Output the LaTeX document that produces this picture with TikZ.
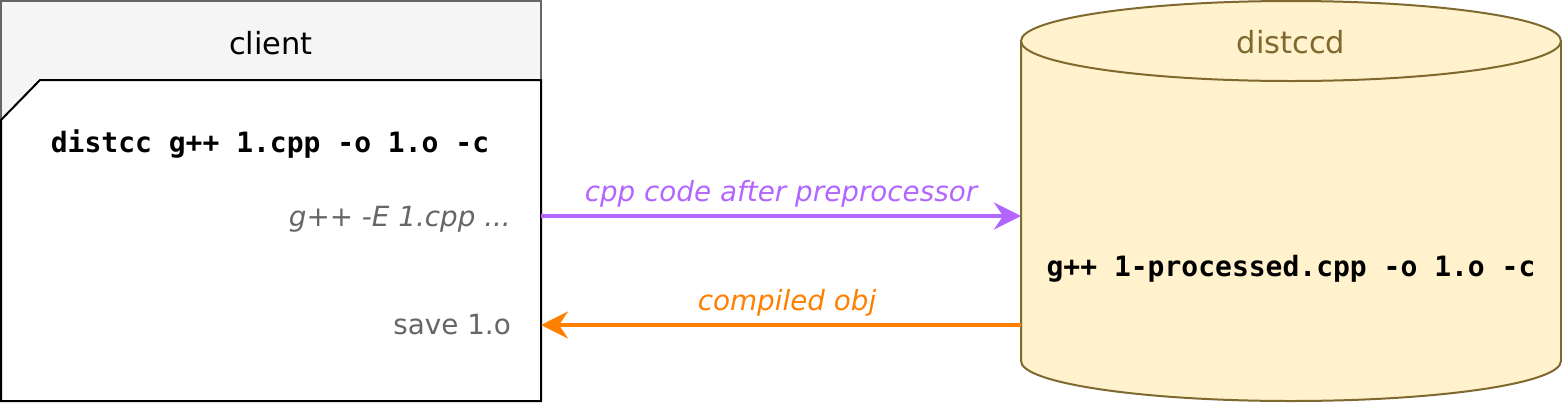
\documentclass[tikz,border=0pt]{standalone}
\usepackage{fontspec}
\setmainfont{DejaVu Sans}
\setmonofont{DejaVu Sans Mono}
\usetikzlibrary{arrows.meta}
\definecolor{hdrfill}{HTML}{F5F5F5}
\definecolor{hdrline}{HTML}{666666}
\definecolor{cylfill}{HTML}{FFF2CC}
\definecolor{cylline}{RGB}{127,105,47}
\definecolor{reqcol}{HTML}{B266FF}
\definecolor{respcol}{HTML}{FF8000}
\definecolor{graytxt}{HTML}{666666}
\begin{document}
\begin{tikzpicture}[x=1pt,y=-1pt,
  hdr/.style={inner sep=0pt, font=\fontsize{30.5}{34}\selectfont},
  lbl/.style={inner sep=0pt, font=\fontsize{27.8}{32}\selectfont},
  itlbl/.style={inner sep=0pt, font=\fontsize{27.8}{32}\selectfont\itshape},
  code/.style={inner sep=0pt, font=\fontsize{28}{32}\selectfont\ttfamily\bfseries},
  flow/.style={line width=4.5pt, -{Stealth[length=27pt,width=27pt,inset=9pt]}},
]
\useasboundingbox (0,0) rectangle (1562,402);
% client frame
\draw[hdrline, fill=hdrfill, line width=2pt] (1,1) rectangle (541,401);
\draw[black, fill=white, line width=2pt, line join=miter] (40,80) -- (541,80) -- (541,401) -- (1,401) -- (1,120) -- cycle;
\node[hdr, anchor=base] (clientlbl) at (271,54) {client};
\node[code] (cmd) at (270,144) {distcc g++ 1.cpp -o 1.o -c};
\node[itlbl, text=graytxt, anchor=base east] (pre) at (511,226) {g++ -E 1.cpp ...};
\node[lbl, text=graytxt, anchor=base east] (save) at (511,334) {save 1.o};
% cylinder
\draw[cylline, fill=cylfill, line width=2pt] (1021,41) -- (1021,361) arc[start angle=180, end angle=360, x radius=270pt, y radius=40pt] -- (1561,41);
\draw[cylline, fill=cylfill, line width=2pt] (1291,41) ellipse [x radius=270pt, y radius=40pt];
\node[hdr, text=cylline, anchor=base] (srvlbl) at (1291,53) {distccd};
\node[code] (srvcmd) at (1291,269) {g++ 1-processed.cpp -o 1.o -c};
% connectors
\coordinate (cout) at (541,216);
\coordinate (sin) at (1021,216);
\coordinate (sout) at (1021,325);
\coordinate (cin) at (541,325);
\draw[flow, reqcol] (cout) -- node[itlbl, text=reqcol, above=6pt] (reqlbl) {cpp code after preprocessor} (sin);
\draw[flow, respcol] (sout) -- node[itlbl, text=respcol, above=6pt, xshift=6pt] (resplbl) {compiled obj} (cin);
\end{tikzpicture}
\end{document}
